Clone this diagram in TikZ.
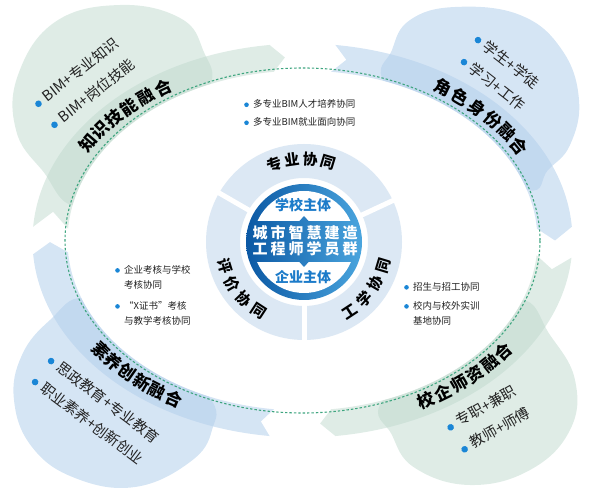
\documentclass[tikz,border=0pt]{standalone}
\usepackage{fontspec}
\setmainfont{Noto Sans CJK SC}
\newfontfamily\hubfont{Noto Sans CJK SC}[LetterSpace=20]
\usetikzlibrary{calc}

\definecolor{greenbase}{HTML}{BFD9CD}
\definecolor{bluebase}{HTML}{B3CFEB}
\definecolor{ringblue}{HTML}{DCE8F4}
\definecolor{dashgreen}{HTML}{3EA57F}
\definecolor{dotblue}{HTML}{1A86D6}
\definecolor{hubdark}{HTML}{0B58A4}
\definecolor{hublight}{HTML}{4AA5DE}
\definecolor{hubtext}{HTML}{1C7BC9}
\definecolor{inktext}{HTML}{222222}

% radii of the arrow band round the loop
\newcommand{\rxin}{235}
\newcommand{\ryin}{170}
\newcommand{\rxout}{270}
\newcommand{\ryout}{197}
\newcommand{\rxmid}{252.5}
\newcommand{\rymid}{183.5}

% arrow band: tail angle, notch angle, head angle, tip angle, style
\newcommand{\band}[5]{%
  \fill[#5] ($(E)+({\rxin*cos(#1)},{\ryin*sin(#1)})$)
    arc[start angle=#1, end angle=#3, x radius=\rxin, y radius=\ryin]
    -- ($(E)+({\rxmid*cos(#4)},{\rymid*sin(#4)})$)
    -- ($(E)+({\rxout*cos(#3)},{\ryout*sin(#3)})$)
    arc[start angle=#3, end angle=#1, x radius=\rxout, y radius=\ryout]
    -- ($(E)+({\rxmid*cos(#2)},{\rymid*sin(#2)})$) -- cycle;}

% letters along the band: name, centre angle, step, turn, letters
\newcommand{\bandtext}[5]{%
  \foreach \ch [count=\i] in {#5} {
    \pgfmathsetmacro\ang{#2-(\i-3.5)*#3}
    \pgfmathsetmacro\chrot{atan2(-\rymid*cos(\ang),\rxmid*sin(\ang))+#4}
    \node[bandlabel, rotate=\chrot] (#1-\i)
      at ($(E)+({\rxmid*cos(\ang)},{\rymid*sin(\ang)})$) {\ch};
  }}

% letters along the ring: name, centre angle, step, turn, letters
\newcommand{\ringtext}[5]{%
  \foreach \ch [count=\i] in {#5} {
    \pgfmathsetmacro\ang{#2-(\i-2.5)*#3}
    \pgfmathsetmacro\chrot{\ang-90+#4}
    \node[ringlabel, rotate=\chrot] (#1-\i) at ($(O)+(\ang:83)$) {\ch};
  }}

\newcommand{\bdot}{\tikz[baseline=-0.55ex]\fill[dotblue] (0,0) circle[radius=3.3pt];}
\newcommand{\sdot}{\makebox[9pt][l]{\tikz[baseline=-0.55ex]\fill[dotblue] (0,0) circle[radius=2.3pt];}}
\newcommand{\snone}{\hspace*{9pt}}

\begin{document}
\begin{tikzpicture}[x=1pt, y=1pt,
  greenblob/.style={fill=greenbase, fill opacity=0.5},
  blueblob/.style={fill=bluebase, fill opacity=0.55},
  bandlabel/.style={font=\fontsize{17pt}{17pt}\selectfont\bfseries, text=black, inner sep=0},
  ringlabel/.style={font=\fontsize{15pt}{15pt}\selectfont\bfseries, text=black, inner sep=0},
  blobtext/.style={font=\fontsize{14.5pt}{14.5pt}\selectfont, text=inktext, inner sep=0, anchor=west},
  note/.style={font=\fontsize{9.5pt}{15pt}\selectfont, text=inktext, inner sep=0, align=left},
  hublabel/.style={font=\fontsize{14pt}{14pt}\selectfont\bfseries, text=hubtext, inner sep=0},
  hubtitle/.style={font=\hubfont\fontsize{15pt}{15pt}\selectfont\bfseries, text=white, inner sep=0}
]
\useasboundingbox (0,0) rectangle (591,495);
\coordinate (E) at (302.5,254.5);
\coordinate (O) at (304,253);

% --- petals behind the arrows ---
\fill[greenblob] plot[smooth cycle, tension=0.7] coordinates
  {(208,405) (203,445) (180,477) (120,490) (55,473) (18,420) (16,365) (42,325) (80,290) (150,345)};
\fill[blueblob] plot[smooth cycle, tension=0.7] coordinates
  {(386,410) (392,445) (410,475) (455,488) (520,480) (562,445) (579,395) (570,350) (548,325) (528,305) (460,345)};
\fill[greenblob] plot[smooth cycle, tension=0.7] coordinates
  {(520,195) (550,160) (575,115) (570,65) (530,25) (470,10) (415,27) (392,60) (383,95) (460,155)};
\fill[blueblob] plot[smooth cycle, tension=0.7] coordinates
  {(85,197) (50,175) (22,140) (14,95) (32,48) (75,17) (135,8) (190,33) (212,65) (208,100) (140,165)};
\fill[white] (E) ellipse[x radius=\rxin, y radius=\ryin];

% --- arrows round the loop ---
\band{176}{171}{97}{94}{greenblob}
\band{83}{80}{4}{0}{blueblob}
\band{-5}{-9}{-83}{-86}{greenblob}
\band{-97}{-99.5}{-176}{-179.5}{blueblob}
\draw[dashgreen, line width=1.1pt, dash pattern=on 2.4pt off 2pt]
  (E) ellipse[x radius=237.5, y radius=172.5];

% --- ring of three parts ---
\fill[ringblue, even odd rule] (O) circle[radius=98] (O) circle[radius=64];
\foreach \g in {25,150,270}
  \draw[white, line width=5pt] ($(O)+(\g:60)$) -- ($(O)+(\g:102)$);

% --- hub ---
\shade[left color=hubdark, right color=hublight] (O) circle[radius=58];
\begin{scope}
  \clip (O) circle[radius=51];
  \fill[white] ($(O)+(-60,21)$) rectangle ($(O)+(60,60)$);
  \fill[white] ($(O)+(-60,-20)$) rectangle ($(O)+(60,-60)$);
\end{scope}
\fill[hubdark!50!hublight] ($(O)+(-5,20.5)$) -- ($(O)+(0,26)$) -- ($(O)+(5,20.5)$) -- cycle;
\fill[hubdark!50!hublight] ($(O)+(-5,-19.5)$) -- ($(O)+(0,-25)$) -- ($(O)+(5,-19.5)$) -- cycle;
\node[hublabel] (school) at (303,290) {学校主体};
\node[hubtitle] (hub-a) at (305,262) {城市智慧建造};
\node[hubtitle] (hub-b) at (305,246) {工程师学员群};
\node[hublabel] (firm) at (303,218) {企业主体};

% --- labels ---
\ringtext{major}{92}{12.5}{0}{专,业,协,同}
\ringtext{eval}{217}{-13.3}{180}{评,价,协,同}
\ringtext{work}{-36.75}{-13.3}{180}{工,学,协,同}

\bandtext{skill}{135.75}{4.9}{0}{知,识,技,能,融,合}
\bandtext{role}{43.65}{5.06}{0}{角,色,身,份,融,合}
\bandtext{staff}{-49.1}{-4.64}{180}{校,企,师,资,融,合}
\bandtext{merit}{-131.8}{-4.48}{180}{素,养,创,新,融,合}

\node[blobtext, rotate=38] (skill-a) at (35,390) {\bdot\hspace{5pt}BIM+专业知识};
\node[blobtext, rotate=38] (skill-b) at (51,369) {\bdot\hspace{5pt}BIM+岗位技能};
\node[blobtext, rotate=-38] (role-a) at (476,458) {\bdot\hspace{5pt}学生+学徒};
\node[blobtext, rotate=-38] (role-b) at (462,436) {\bdot\hspace{5pt}学习+工作};
\node[blobtext, rotate=29.5] (staff-a) at (447,67) {\bdot\hspace{5pt}专职+兼职};
\node[blobtext, rotate=29.5] (staff-b) at (461,45) {\bdot\hspace{5pt}教师+师傅};
\node[blobtext, rotate=-37] (merit-a) at (49,137) {\bdot\hspace{5pt}思政教育+专业教育};
\node[blobtext, rotate=-37] (merit-b) at (33,116) {\bdot\hspace{5pt}职业素养+创新创业};

\node[note, anchor=west] (major-a) at (244,391) {\sdot 多专业BIM人才培养协同};
\node[note, anchor=west] (major-b) at (244,373) {\sdot 多专业BIM就业面向协同};
\node[note, anchor=north west] (eval-a) at (115,230) {\sdot 企业考核与学校\\\snone 考核协同};
\node[note, anchor=north west] (eval-b) at (115,194) {\sdot “X证书”考核\\\snone 与教学考核协同};
\node[note, anchor=north west] (work-a) at (404,213) {\sdot 招生与招工协同};
\node[note, anchor=north west] (work-b) at (404,194) {\sdot 校内与校外实训\\\snone 基地协同};
\end{tikzpicture}
\end{document}
